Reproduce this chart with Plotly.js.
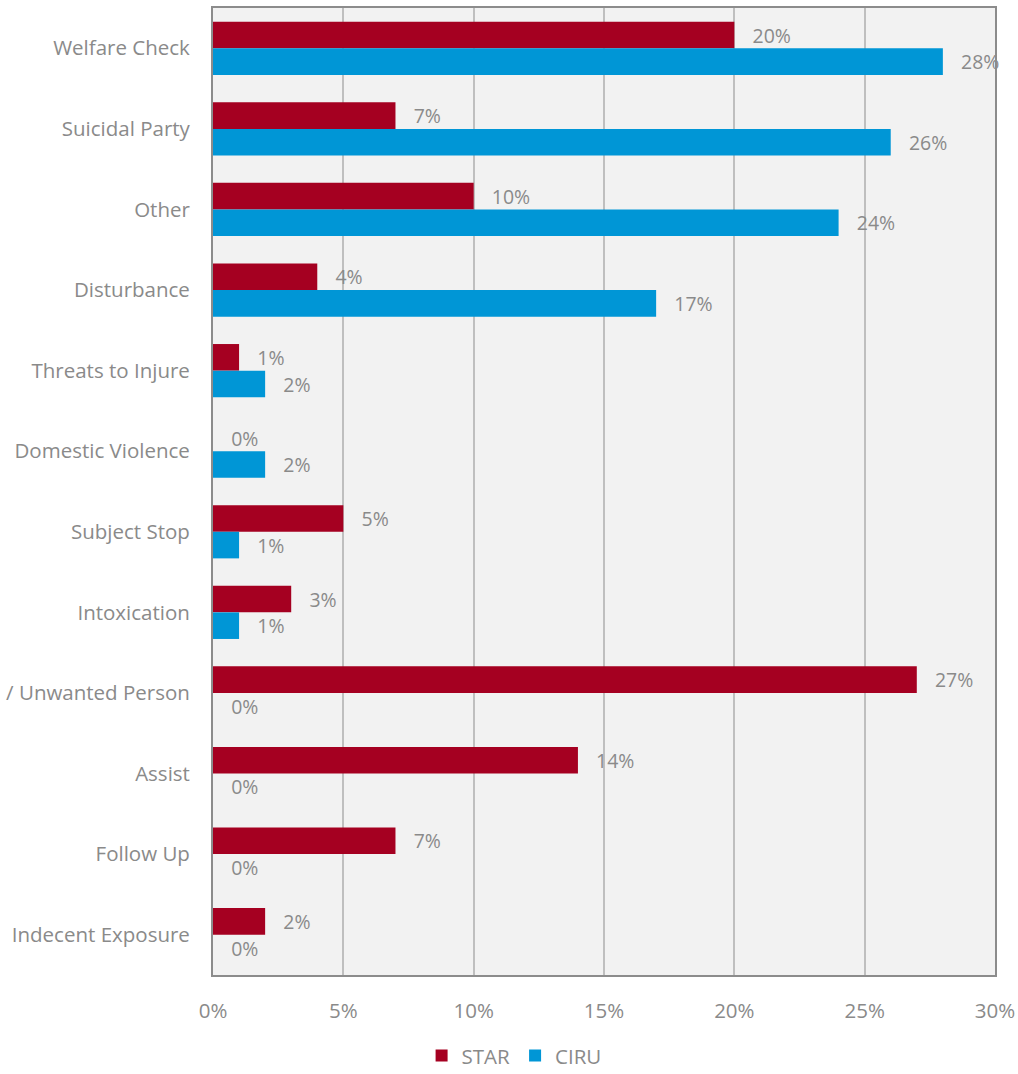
<!DOCTYPE html>
<html><head><meta charset="utf-8">
<script src="https://cdn.plot.ly/plotly-3.0.1.min.js"></script>
<style>html,body{margin:0;padding:0;background:#fff;}#chart{width:1018px;height:1074px;}</style>
</head><body><div id="chart"></div>
<script>
const categories = ["Welfare Check","Suicidal Party","Other","Disturbance","Threats to Injure","Domestic Violence","Subject Stop","Intoxication","/ Unwanted Person","Assist","Follow Up","Indecent Exposure"];
const starValues = [20,7,10,4,1,0,5,3,27,14,7,2];
const ciruValues = [28,26,24,17,2,2,1,1,0,0,0,0];
const xTickVals = [0,5,10,15,20,25,30];
const xTickText = ["0%","5%","10%","15%","20%","25%","30%"];

const fontFam = "'Open Sans', sans-serif";
const fs = 20.5;
function mk(name, vals, color){
  return {type:'bar', orientation:'h', name:name, y:categories, x:vals,
    marker:{color:color},
    text: vals.map(v=>'\u00a0\u00a0\u00a0'+v+'%'), textposition:'outside', cliponaxis:false,
    textfont:{family:fontFam, size:fs, color:'#8a8a8a'}, hoverinfo:'none'};
}
const data = [mk('STAR', starValues, '#A50021'), mk('CIRU', ciruValues, '#0096D6')];
const layout = {
  width:1018, height:1074,
  margin:{l:213, r:23, t:8, b:99},
  paper_bgcolor:'#ffffff', plot_bgcolor:'#f2f2f2',
  barmode:'group', bargap:0.34, bargroupgap:0,
  font:{family:fontFam, size:fs, color:'#8a8a8a'},
  xaxis:{range:[0,30], tickvals:xTickVals, ticktext:xTickText, showgrid:true, gridcolor:'#bfbfbf', gridwidth:2,
    showline:true, linecolor:'#8c8c8c', linewidth:2, mirror:true, zeroline:false, ticks:'', ticklabelstandoff:16,
    tickfont:{family:fontFam, size:fs, color:'#8a8a8a'}},
  yaxis:{autorange:'reversed', showline:true, linecolor:'#8c8c8c', linewidth:2, mirror:true, ticks:'', ticklabelstandoff:17,
    tickfont:{family:fontFam, size:fs, color:'#8a8a8a'}, showgrid:false},
  legend:{orientation:'h', xref:'container', x:0.505, xanchor:'center', yref:'container', y:0.017, yanchor:'middle',
    font:{family:fontFam, size:fs, color:'#8a8a8a'}, itemwidth:30, tracegroupgap:0},
  showlegend:true
};
Plotly.newPlot('chart', data, layout, {staticPlot:true});
</script></body></html>
